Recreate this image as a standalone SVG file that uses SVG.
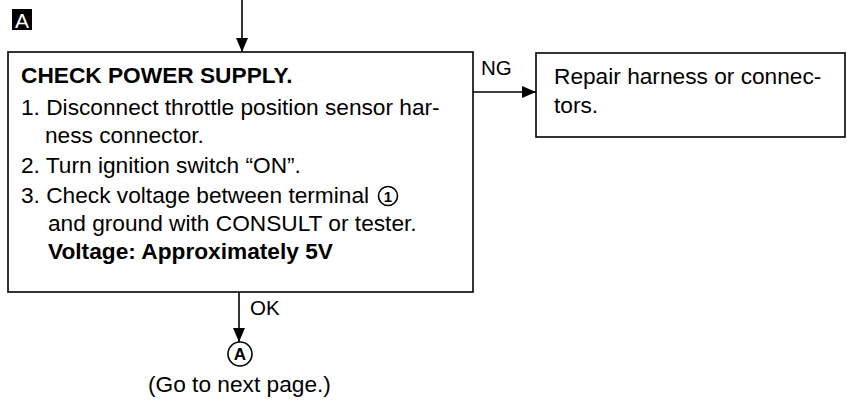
<svg xmlns="http://www.w3.org/2000/svg" width="847" height="411" viewBox="0 0 847 411">
<style>
.t{font-family:"Liberation Sans",Arial,sans-serif;font-size:22.7px;fill:#000}
.b{font-weight:bold}
.s{font-size:20.5px}
.box{fill:#fff;stroke:#000;stroke-width:1.6}
.ln{stroke:#000;stroke-width:1.6;fill:none}
</style>
<defs>
<marker id="ah" viewBox="0 0 14 12" refX="14" refY="6" markerWidth="14" markerHeight="12" markerUnits="userSpaceOnUse" orient="auto">
<path d="M0,0 L14,6 L0,12 Z" fill="#000"/>
</marker>
</defs>
<rect width="847" height="411" fill="#fff"/>
<g id="label-A">
<rect x="12" y="9" width="20" height="21" fill="#000"/>
<text x="22" y="27.5" class="t" style="font-size:21px;fill:#fff" text-anchor="middle">A</text>
</g>
<g id="connectors">
<line x1="242" y1="0" x2="242" y2="52" class="ln" marker-end="url(#ah)"/>
<line x1="473" y1="92" x2="536" y2="92" class="ln" marker-end="url(#ah)"/>
<text x="481" y="75" class="t s">NG</text>
<line x1="239" y1="292" x2="239" y2="342" class="ln" marker-end="url(#ah)"/>
<text x="250" y="315" class="t s">OK</text>
</g>
<g id="check-power-supply">
<rect x="8" y="52" width="465" height="240" class="box"/>
<text x="21" y="83" class="t b">CHECK POWER SUPPLY.</text>
<text x="21" y="115" class="t">1. Disconnect throttle position sensor har-</text>
<text x="45" y="143" class="t">ness connector.</text>
<text x="21" y="173" class="t">2. Turn ignition switch “ON”.</text>
<text x="21" y="203" class="t">3. Check voltage between terminal</text>
<circle cx="388" cy="196" r="9.5" class="ln"/>
<text x="388" y="201.5" class="t b" style="font-size:15px" text-anchor="middle">1</text>
<text x="48" y="231" class="t">and ground with CONSULT or tester.</text>
<text x="48" y="259" class="t b">Voltage: Approximately 5V</text>
</g>
<g id="repair">
<rect x="536" y="53" width="309" height="84" class="box"/>
<text x="554" y="84" class="t">Repair harness or connec-</text>
<text x="554" y="113" class="t">tors.</text>
</g>
<g id="goto-A">
<circle cx="240" cy="354" r="12" class="ln"/>
<text x="240" y="360" class="t b" style="font-size:17px" text-anchor="middle">A</text>
<text x="148" y="392" class="t">(Go to next page.)</text>
</g>
</svg>
